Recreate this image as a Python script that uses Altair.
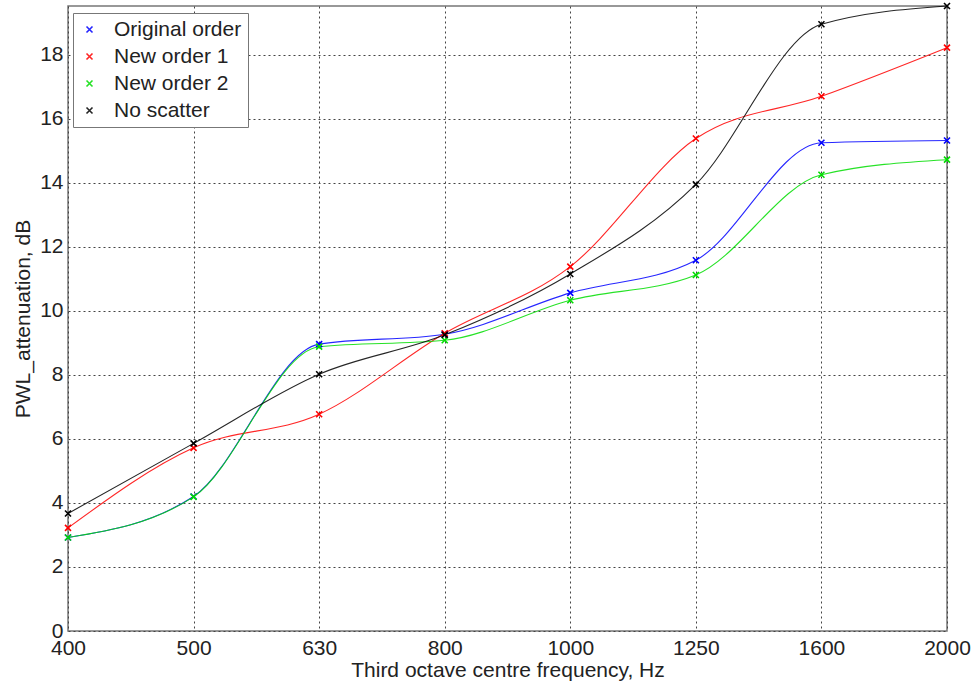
import altair as alt
import pandas as pd

# Third octave centre frequencies (Hz), evenly spaced on the axis
freqs = ["400", "500", "630", "800", "1000", "1250", "1600", "2000"]

# PWL attenuation (dB) per scattering configuration
original_order = [2.92, 4.20, 8.96, 9.27, 10.56, 11.58, 15.25, 15.32]
new_order_1 = [3.22, 5.72, 6.77, 9.30, 11.38, 15.38, 16.70, 18.22]
new_order_2 = [2.92, 4.19, 8.88, 9.08, 10.33, 11.12, 14.25, 14.72]
no_scatter = [3.67, 5.86, 8.02, 9.25, 11.15, 13.95, 18.95, 19.52]

series_names = ["Original order", "New order 1", "New order 2", "No scatter"]
series_colors = ["#0000ff", "#ff0000", "#00dd00", "#000000"]
series_values = [original_order, new_order_1, new_order_2, no_scatter]

rows = []
for name, vals in zip(series_names, series_values):
    for f, v in zip(freqs, vals):
        rows.append({"freq": f, "value": v, "series": name})
df = pd.DataFrame(rows)

FONT = "Liberation Sans"
X_SHAPE = "M-1,-1L1,1M-1,1L1,-1"

axis_style = dict(
    labelFontSize=21,
    titleFontSize=21,
    labelColor="#222",
    titleColor="#222",
    ticks=False,
    domain=False,
    grid=True,
    gridColor="#444",
    gridDash=[2, 3],
    gridWidth=1,
    labelFont=FONT,
    titleFont=FONT,
    titleFontWeight="normal",
)

x_enc = alt.X(
    "freq:N",
    sort=freqs,
    scale=alt.Scale(type="point", padding=0),
    axis=alt.Axis(
        title="Third octave centre frequency, Hz",
        labelAngle=0,
        labelPadding=6,
        titlePadding=1,
        **axis_style,
    ),
)
y_enc = alt.Y(
    "value:Q",
    scale=alt.Scale(domain=[0, 19.52], nice=False, zero=True),
    axis=alt.Axis(
        title="PWL_attenuation, dB",
        values=list(range(0, 20, 2)),
        labelPadding=5,
        titlePadding=6,
        **axis_style,
    ),
)
legend = alt.Legend(
    title=None,
    orient="none",
    legendX=5,
    legendY=7,
    labelFontSize=21,
    labelFont=FONT,
    labelColor="#222",
    symbolType=X_SHAPE,
    symbolSize=36,
    symbolStrokeWidth=1.6,
    symbolFillColor="transparent",
    labelOffset=14,
    rowPadding=5,
    padding=6,
    fillColor="white",
    strokeColor="#777",
    labelLimit=300,
    offset=0,
)
color_enc = alt.Color(
    "series:N",
    sort=series_names,
    scale=alt.Scale(domain=series_names, range=series_colors),
    legend=legend,
)

lines = alt.Chart(df).mark_line(
    interpolate="monotone", strokeWidth=1.1, opacity=0.85
).encode(x=x_enc, y=y_enc, color=color_enc)

points = alt.Chart(df).mark_point(
    shape=X_SHAPE, size=36, strokeWidth=1.6, filled=False, opacity=1
).encode(x=x_enc, y=y_enc, color=color_enc)

chart = (
    alt.layer(lines, points)
    .properties(
        width=879,
        height=625,
        autosize=alt.AutoSizeParams(type="none"),
        padding={"left": 68, "top": 6, "right": 25, "bottom": 50},
        background="white",
    )
    .configure_view(stroke="#777", strokeWidth=1.5)
)

chart.save("out.html", embed_options={"renderer": "svg", "actions": False})
